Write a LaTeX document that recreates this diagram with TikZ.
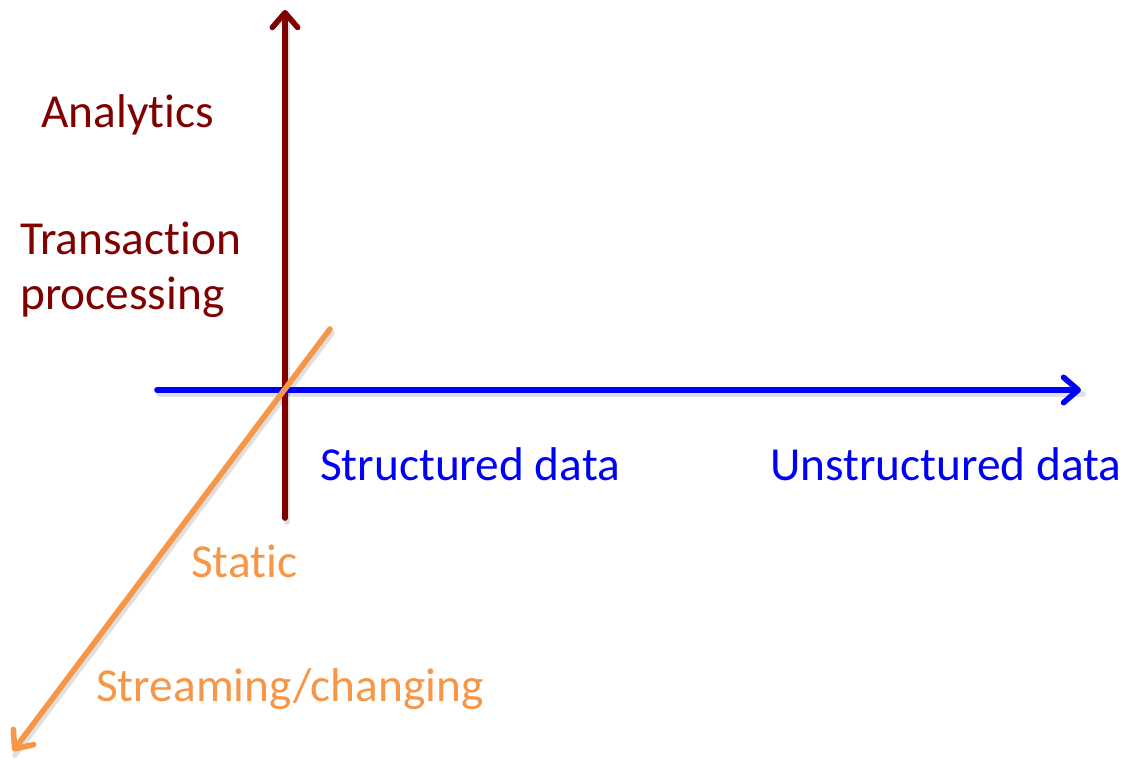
\documentclass[tikz,border=0pt]{standalone}
\usepackage{fontspec}
\setmainfont{Carlito}[Ligatures={NoCommon}]
\usetikzlibrary{arrows.meta}
\definecolor{axisred}{RGB}{128,0,0}
\definecolor{axisblue}{RGB}{0,0,245}
\definecolor{axisorange}{RGB}{247,150,70}
\tikzset{
  axisline/.style={line width=4.2pt, line cap=round,
    -{Straight Barb[length=11pt,width=19pt,round]}},
  shade line/.style={line width=4.2pt, line cap=round, black, opacity=0.12},
  lbl/.style={anchor=base west, inner sep=0pt, font=\fontsize{35.5}{42}\selectfont},
}
\begin{document}
\begin{tikzpicture}[x=0.75pt,y=-0.75pt]
\useasboundingbox (0,0) rectangle (1126,760);
% axis end points
\coordinate (vb) at (285,518);
\coordinate (vt) at (285,10);
\coordinate (hl) at (157,390);
\coordinate (hr) at (1081,390);
\coordinate (ot) at (330,329);
\coordinate (ob) at (13,751);
% soft shadows under the axes
\draw[shade line] ([shift={(2,4)}]vb) -- ([shift={(2,4)}]vt);
\draw[shade line] ([shift={(2,4)}]hl) -- ([shift={(2,4)}]hr);
\draw[shade line] ([shift={(2,4)}]ot) -- ([shift={(2,4)}]ob);
% axes
\draw[axisline, axisred] (vb) -- (vt);
\draw[axisline, axisblue] (hl) -- (hr);
\draw[axisline, axisorange] (ot) -- (ob);
% labels
\node[lbl, text=axisred] (analytics) at (41,127) {Analytics};
\node[lbl, text=axisred] (trans) at (20,254) {Transaction};
\node[lbl, text=axisred] (proc) at (20,309) {processing};
\node[lbl, text=axisblue] (struct) at (320,480) {Structured data};
\node[lbl, text=axisblue] (unstruct) at (770,480) {Unstructured data};
\node[lbl, text=axisorange] (static) at (191,577) {Static};
\node[lbl, text=axisorange] (stream) at (96,701) {Streaming/changing};
\end{tikzpicture}
\end{document}
